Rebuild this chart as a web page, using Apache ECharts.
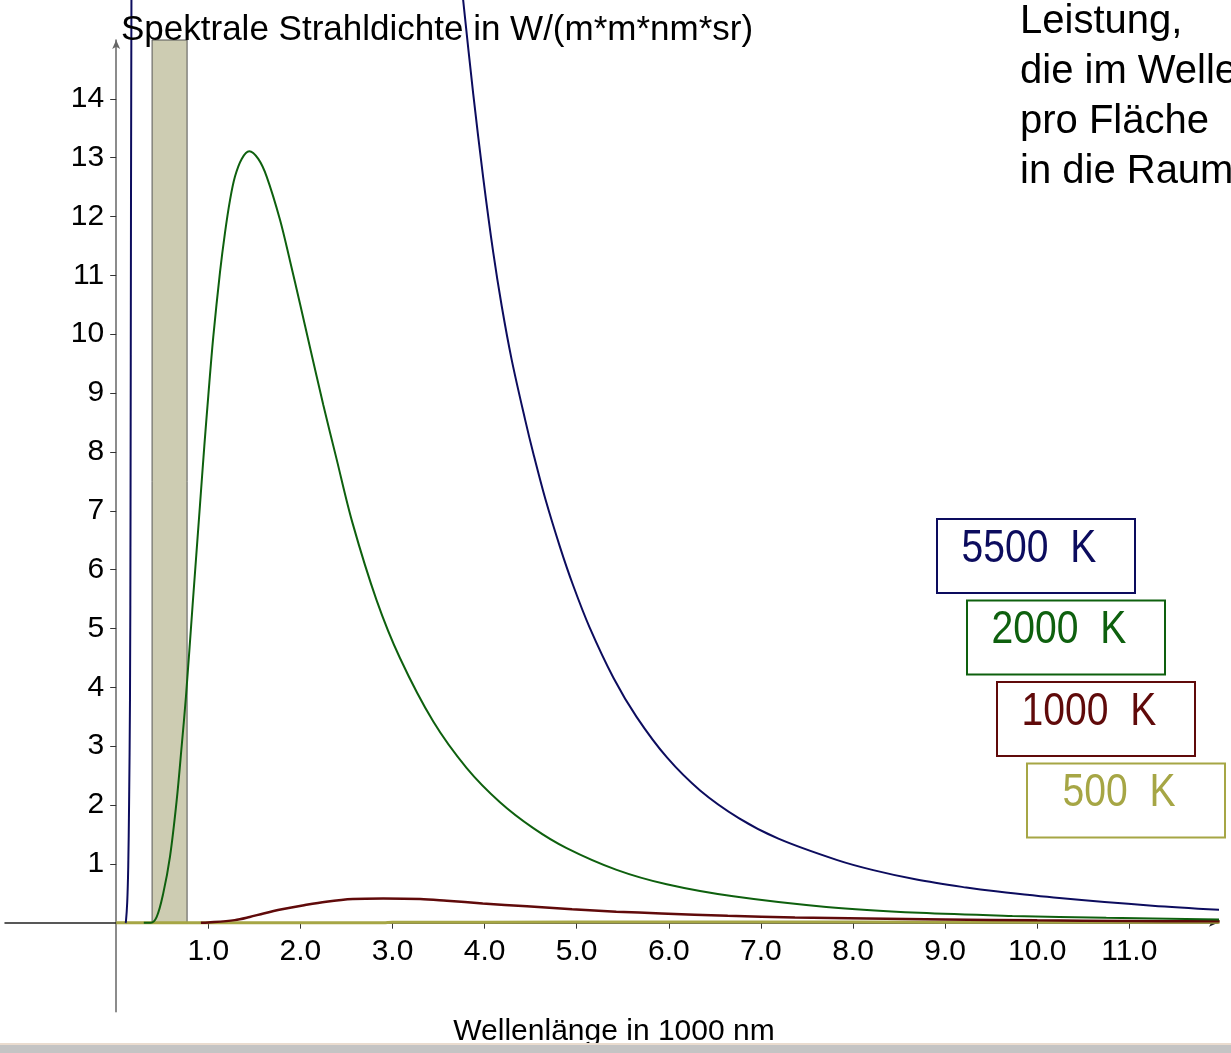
<!DOCTYPE html>
<html>
<head>
<meta charset="utf-8">
<title>Spektrale Strahldichte</title>
<script src="https://cdn.jsdelivr.net/npm/echarts@6/dist/echarts.min.js"></script>
<style>
	html, body { margin: 0; padding: 0; background: #ffffff; }
	#main { width: 1231px; height: 1053px; }
</style>
</head>
<body>
<div id="main"></div>
<script>
	// tick labels
	var xTicks = [1, 2, 3, 4, 5, 6, 7, 8, 9, 10, 11];
	var yTicks = [1, 2, 3, 4, 5, 6, 7, 8, 9, 10, 11, 12, 13, 14];

	// visible range (gray band), in 1000 nm
	var visibleBand = [0.39, 0.77];
	var bandTop = 15;

	// curves: [wavelength in 1000 nm, W/(m*m*nm*sr)]
	// '-' breaks the 5500 K line where it leaves the chart
	var curve5500 = [
		[0.10, 0], [0.106, 0.02], [0.12, 0.35], [0.131, 0.95], [0.14, 2.0], [0.15, 3.78],
		[0.156, 7.0], [0.161, 12.3], [0.167, 16.5], [2, '-'],
		[3.74, 16.1], [3.776, 15.55], [3.877, 14.08], [3.986, 12.65], [4.094, 11.39], [4.186, 10.48],
		[4.294, 9.57], [4.44, 8.55], [4.53, 7.97], [4.66, 7.2], [4.82, 6.38], [4.96, 5.74],
		[5.14, 5.02], [5.40, 4.16], [5.65, 3.50], [5.98, 2.81], [6.34, 2.25], [6.76, 1.78],
		[7.19, 1.43], [7.83, 1.065], [8.22, 0.895], [8.69, 0.735], [9.23, 0.60], [9.55, 0.535],
		[10.24, 0.42], [11.25, 0.29], [11.98, 0.22]
	];
	var curve2000 = [
		[0.30, 0], [0.375, 0], [0.44, 0.10], [0.511, 0.50], [0.584, 1.12], [0.657, 2.08],
		[0.711, 3.0], [0.758, 3.85], [0.83, 5.4], [0.91, 7.1], [0.957, 8.1], [1.0, 8.95],
		[1.054, 9.95], [1.127, 11.05], [1.181, 11.72], [1.236, 12.28], [1.29, 12.68], [1.363, 12.98],
		[1.445, 13.11], [1.543, 12.98], [1.634, 12.68], [1.778, 11.95], [1.887, 11.25], [1.996, 10.52],
		[2.104, 9.78], [2.249, 8.8], [2.39, 7.9], [2.565, 6.8], [2.828, 5.48], [3.081, 4.5],
		[3.443, 3.42], [3.806, 2.63], [4.167, 2.05], [4.529, 1.61], [4.891, 1.27], [5.434, 0.90],
		[5.977, 0.655], [6.70, 0.45], [7.71, 0.27], [8.72, 0.17], [9.73, 0.118], [10.75, 0.085],
		[11.98, 0.058]
	];
	var curve1000 = [
		[0.92, 0], [1.0, 0.005], [1.287, 0.046], [1.45, 0.10], [1.60, 0.16], [1.80, 0.23],
		[2.04, 0.30], [2.28, 0.36], [2.57, 0.405], [2.90, 0.414], [3.30, 0.405], [3.59, 0.375],
		[3.98, 0.33], [4.46, 0.28], [4.95, 0.23], [5.43, 0.19], [5.92, 0.16], [6.64, 0.12],
		[7.37, 0.09], [8.15, 0.072], [9.0, 0.056], [10.0, 0.042], [11.0, 0.032], [11.98, 0.025]
	];
	var curve500 = [
		[0, 0], [1.0, 0], [2.0, 0], [2.9, 0.002], [3.0, 0.008], [4.0, 0.011], [6.0, 0.013],
		[8.0, 0.012], [10.0, 0.01], [11.98, 0.008]
	];

	var seriesNames = ['5500  K', '2000  K', '1000  K', '500  K'];
	var seriesColors = ['#0c0c5e', '#0e600e', '#600a0a', '#a6a645'];
	var seriesWidths = [2, 2, 2.5, 3];
	var curves = [curve5500, curve2000, curve1000, curve500];

	var textFont = "'Liberation Sans', Arial, 'Noto Sans', sans-serif";

	function buildSeries() {
		var list = [{
			type: 'line',
			name: 'band',
			data: [],
			z: 1,
			silent: true,
			markArea: {
				silent: true,
				itemStyle: { color: '#cdccb2', borderColor: '#555555', borderWidth: 1 },
				data: [[{ xAxis: visibleBand[0], yAxis: 0 }, { xAxis: visibleBand[1], yAxis: bandTop }]]
			}
		}];
		// draw the flat ones first, 5500 K on top
		for (var i = curves.length - 1; i >= 0; i--) {
			list.push({
				type: 'line',
				name: seriesNames[i],
				data: curves[i],
				showSymbol: false,
				smooth: 0.33,
				clip: false,
				connectNulls: false,
				z: 3,
				lineStyle: { color: seriesColors[i], width: seriesWidths[i] },
				itemStyle: { color: seriesColors[i] }
			});
		}
		return list;
	}

	function textStyle(text, font, color, align) {
		return { text: text, font: font, fill: color,
			align: align, verticalAlign: 'middle', textAlign: align, textVerticalAlign: 'middle' };
	}

	function buildGraphics() {
		var g = [];
		g.push({ type: 'text', x: 121, y: 30, z: 10,
			style: textStyle('Spektrale Strahldichte in W/(m*m*nm*sr)', '35px ' + textFont, '#000', 'left') });
		var note = ['Leistung,', 'die im Wellenlängenbereich', 'pro Fläche', 'in die Raumrichtung'];
		for (var k = 0; k < note.length; k++) {
			g.push({ type: 'text', x: 1020, y: 22 + k * 50, z: 10,
				style: textStyle(note[k], '40px ' + textFont, '#000', 'left') });
		}
		g.push({ type: 'text', x: 614, y: 1032, z: 10,
			style: textStyle('Wellenlänge in 1000 nm', '30px ' + textFont, '#000', 'center') });
		// temperature boxes
		for (var i = 0; i < seriesNames.length; i++) {
			var bx = 937 + i * 30, by = 519 + i * 81.5;
			g.push({
				type: 'rect', z: 10,
				shape: { x: bx, y: by, width: 198, height: 74 },
				style: { fill: '#ffffff', stroke: seriesColors[i], lineWidth: 2 }
			});
			g.push({
				type: 'text', x: bx + 92, y: by + 30, z: 11, scaleX: 0.85,
				style: textStyle(seriesNames[i], '46px ' + textFont, seriesColors[i], 'center')
			});
		}
		// window edge at the bottom
		g.push({ type: 'rect', z: 20, shape: { x: 0, y: 1043, width: 1231, height: 2 }, style: { fill: '#eadccf' } });
		g.push({ type: 'rect', z: 20, shape: { x: 0, y: 1045, width: 1231, height: 8 }, style: { fill: '#c4c4c4' } });
		return g;
	}

	// grid 0 carries the curves and the crossing axis lines,
	// grid 1 has the same scale but starts at the origin, so its ticks and labels sit on the zero lines
	var option = {
		animation: false,
		backgroundColor: '#ffffff',
		grid: [
			{ left: 5, right: 13, top: 40, bottom: 41.3, containLabel: false, outerBoundsMode: 'none' },
			{ left: 116.2, right: 13, top: 40, bottom: 130.3, containLabel: false, outerBoundsMode: 'none' }
		],
		xAxis: [{
			type: 'value', gridIndex: 0,
			min: -1.207, max: 11.963,
			axisLine: { show: true, onZero: true, symbol: ['none', 'arrow'], symbolSize: [6, 9],
				lineStyle: { color: '#222222', width: 1.5 } },
			axisTick: { show: false },
			axisLabel: { show: false },
			splitLine: { show: false }
		}, {
			type: 'value', gridIndex: 1,
			min: 0, max: 11.963,
			axisLine: { show: false, onZero: false },
			axisTick: { show: true, length: 6, customValues: xTicks, lineStyle: { color: '#333333' } },
			axisLabel: { customValues: xTicks, margin: 14, color: '#000',
				fontFamily: textFont, fontSize: 30,
				formatter: function (v) { return v.toFixed(1); } },
			splitLine: { show: false }
		}],
		yAxis: [{
			type: 'value', gridIndex: 0,
			min: -1.51, max: 15,
			axisLine: { show: true, onZero: true, symbol: ['none', 'arrow'], symbolSize: [6, 9],
				lineStyle: { color: '#666666', width: 1.5 } },
			axisTick: { show: false },
			axisLabel: { show: false },
			splitLine: { show: false }
		}, {
			type: 'value', gridIndex: 1,
			min: 0, max: 15,
			axisLine: { show: false, onZero: false },
			axisTick: { show: true, length: 6, customValues: yTicks, lineStyle: { color: '#333333' } },
			axisLabel: { customValues: yTicks, margin: 12, color: '#000',
				fontFamily: textFont, fontSize: 30 },
			splitLine: { show: false }
		}],
		series: buildSeries(),
		graphic: buildGraphics()
	};

	var chart = echarts.init(document.getElementById('main'));
	chart.setOption(option);
</script>
</body>
</html>
